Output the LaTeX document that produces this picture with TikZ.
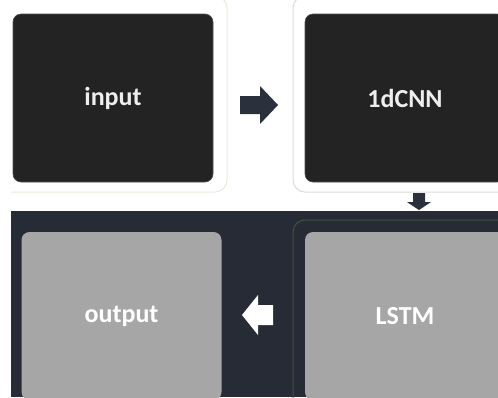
\documentclass[tikz,border=0pt]{standalone}
\usepackage{fontspec}
\setmainfont{Carlito}
\definecolor{boxdark}{HTML}{232323}
\definecolor{boxgray}{HTML}{A6A6A6}
\definecolor{bandcol}{HTML}{262B35}
\definecolor{arrowdark}{HTML}{2A303C}
\definecolor{frameA}{HTML}{E4EDDA}
\definecolor{frameB}{HTML}{DCDCDC}
\definecolor{frameC}{HTML}{41543F}
\definecolor{txtlight}{HTML}{EEEEEE}
\tikzset{
  stagebox/.style={rectangle, rounded corners=8pt, minimum width=200pt, minimum height=168pt,
    inner sep=0pt, outer sep=0pt, font=\fontsize{26}{30}\selectfont\bfseries, text=txtlight},
  darkstage/.style={stagebox, fill=boxdark, draw=boxdark!80!white, line width=0.6pt},
  graystage/.style={stagebox, fill=boxgray, text=white},
  frameline/.style={line width=1pt, rounded corners=12pt},
  blockarrow/.style={fill=arrowdark},
  whitearrow/.style={fill=white}
}
\begin{document}
\begin{tikzpicture}[x=1pt,y=-1pt]
\useasboundingbox (0,0) rectangle (498,397);
\begin{scope}
\clip (0,0) rectangle (498,397);
\fill[white] (0,0) rectangle (498,397);
\fill[bandcol] (0,211) rectangle (498,397);
% frames
\draw[frameline, draw=frameA] (-20,-4) rectangle (227,192);
\draw[frameline, draw=frameB] (293,-4) rectangle (530,192);
\draw[frameline, draw=frameC] (293,220) rectangle (530,430);
% stages
\node[darkstage] (input) at (113,98) {input};
\node[darkstage] (cnn) at (405,98) {1dCNN};
\node[graystage] (output) at (121.5,316) {output};
\node[graystage] (lstm) at (405,316) {LSTM};
% block arrows
\fill[blockarrow] (240,96) -- (260,96) -- (260,86) -- (278,105) -- (260,124) -- (260,114) -- (240,114) -- cycle;
\fill[blockarrow] (413,193) -- (425,193) -- (425,202) -- (431,202) -- (419,210) -- (407,202) -- (413,202) -- cycle;
\fill[whitearrow] (273,305) -- (258,305) -- (258,295) -- (242,315) -- (258,335) -- (258,325) -- (273,325) -- cycle;
\end{scope}
\fill[white] (0,0) rectangle (11,397);
\end{tikzpicture}
\end{document}
